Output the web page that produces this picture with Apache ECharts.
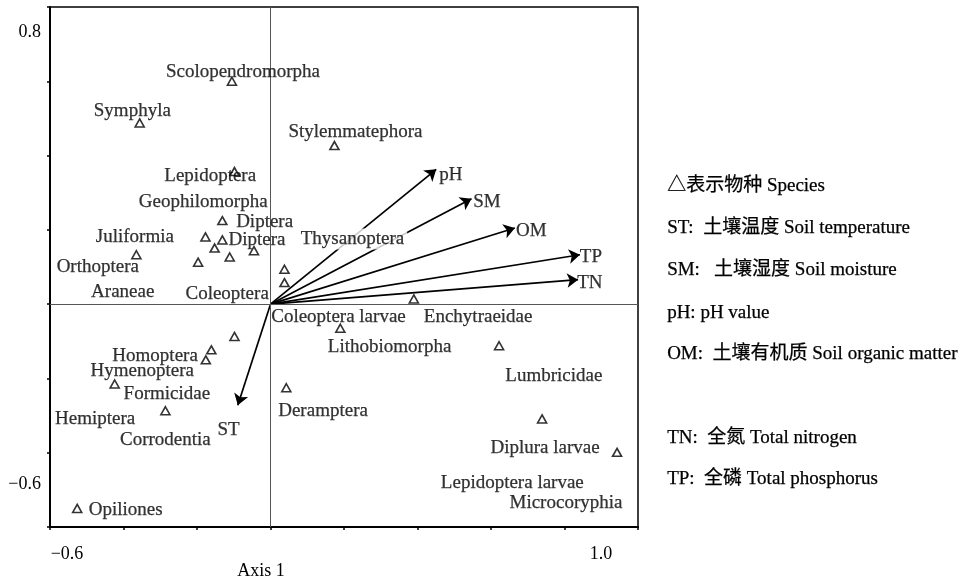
<!DOCTYPE html>
<html><head><meta charset="utf-8">
<script src="https://cdn.jsdelivr.net/npm/echarts@6/dist/echarts.min.js"></script>
<style>html,body{margin:0;padding:0;background:#fff}#c{width:964px;height:583px}</style>
</head><body><div id="c"></div>
<script>
// Species scores (triangles)
const speciesX = [-0.105,-0.356,0.174,-0.098,-0.131,-0.177,-0.131,-0.152,-0.045,-0.111,-0.197,-0.365,0.038,0.038,0.390,0.190,0.622,0.043,0.739,0.943,-0.098,-0.161,-0.176,-0.424,-0.286,-0.526];
const speciesY = [0.600,0.488,0.427,0.357,0.225,0.181,0.173,0.151,0.144,0.127,0.113,0.133,0.094,0.058,0.014,-0.065,-0.112,-0.225,-0.309,-0.399,-0.087,-0.123,-0.150,-0.215,-0.287,-0.550];
// Species name labels (anchor in data units)
const labelNames = ['Scolopendromorpha','Symphyla','Stylemmatephora','Lepidoptera','Geophilomorpha','Diptera','Diptera','Juliformia','Orthoptera','Araneae','Coleoptera','Thysanoptera','Coleoptera larvae','Enchytraeidae','Lithobiomorpha','Lumbricidae','Deramptera','Diplura larvae','Lepidoptera larvae','Microcoryphia','Homoptera','Hymenoptera','Formicidae','Hemiptera','Corrodentia','Opiliones'];
const labelX = [-0.075,-0.376,0.231,-0.164,-0.183,-0.016,-0.037,-0.369,-0.470,-0.402,-0.118,0.223,0.185,0.565,0.324,0.771,0.143,0.747,0.658,0.804,-0.314,-0.349,-0.282,-0.477,-0.286,-0.394];
const labelY = [0.631,0.524,0.470,0.349,0.281,0.227,0.179,0.187,0.106,0.039,0.033,0.181,-0.029,-0.029,-0.110,-0.188,-0.282,-0.381,-0.476,-0.530,-0.134,-0.174,-0.236,-0.303,-0.361,-0.549];
// Environmental vectors
const envNames = ['pH','SM','OM','TP','TN','ST'];
const envX = [0.451,0.547,0.665,0.842,0.837,-0.089];
const envY = [0.363,0.284,0.205,0.133,0.066,-0.272];
const envLabelX = [0.491,0.589,0.710,0.872,0.869,-0.114];
const envLabelY = [0.353,0.281,0.202,0.133,0.061,-0.333];
// Side legend text
const legendLines = ['△表示物种 Species','ST:  土壤温度 Soil temperature','SM:   土壤湿度 Soil moisture','pH: pH value','OM:  土壤有机质 Soil organic matter','','TN:  全氮 Total nitrogen','TP:  全磷 Total phosphorus'];
// Tick labels shown
const xTickText = [[-0.6,'−0.6','lo'],[1.0,'1.0','hi']];
const yTickText = [[0.8,'0.8','hi'],[-0.6,'−0.6','lo']];
const xAxisName = 'Axis 1';

const FONT = '"Liberation Serif","Noto Sans CJK SC",serif';
const chart = echarts.init(document.getElementById('c'));

function tickFmt(list){
  return function(v){
    for (const t of list){ if (Math.abs(v - t[0]) < 1e-6) return '{' + t[2] + '|' + t[1] + '}'; }
    return '';
  };
}

const legendGraphics = [];
const legendYs = [185,227,269,312,353,395,437,478];
legendLines.forEach((t, i) => {
  if (!t) return;
  legendGraphics.push({type:'text', left:667, top:legendYs[i]-9, style:{text:t, font:'19px ' + FONT, fill:'#000', stroke:'#000', lineWidth:0.25}});
});

const labelStyle = {show:true, position:'inside', offset:[0,2], formatter:'{b}', fontFamily:FONT, fontSize:19, color:'#000', textBorderColor:'#000', textBorderWidth:0.25};

chart.setOption({
  animation:false,
  backgroundColor:'#fff',
  grid: {left:50, right:326, top:7, bottom:56, show:true, borderColor:'#000', borderWidth:1.5,
         backgroundColor:'transparent', containLabel:false, outerBoundsMode:'none'},
  xAxis: {
    type:'value', min:-0.6, max:1.0, interval:0.2,
    axisLine:{show:true, onZero:false, lineStyle:{color:'#000', width:2}},
    axisTick:{show:true, inside:false, length:3, lineStyle:{color:'#000', width:1.5}},
    splitLine:{show:false},
    axisLabel:{show:true, margin:18, fontFamily:FONT, fontSize:18, color:'#000', formatter:tickFmt(xTickText),
      rich:{lo:{fontFamily:FONT, fontSize:18, color:'#000', padding:[0,0,0,34]}, hi:{fontFamily:FONT, fontSize:18, color:'#000', padding:[0,74,0,0]}}},
    name:xAxisName, nameLocation:'middle', nameGap:35, nameMoveOverlap:false,
    nameTextStyle:{fontFamily:FONT, fontSize:18, color:'#000', padding:[0,166,0,0]}
  },
  yAxis: {
    type:'value', min:-0.6, max:0.8, interval:0.2,
    axisLine:{show:true, onZero:false, lineStyle:{color:'#000', width:2}},
    axisTick:{show:true, inside:false, length:3, lineStyle:{color:'#000', width:1.5}},
    splitLine:{show:false},
    axisLabel:{show:true, margin:9, fontFamily:FONT, fontSize:18, color:'#000', formatter:tickFmt(yTickText),
      rich:{hi:{fontFamily:FONT, fontSize:18, color:'#000', padding:[51,0,0,0]}, lo:{fontFamily:FONT, fontSize:18, color:'#000', padding:[0,0,86,0]}}}
  },
  graphic: legendGraphics,
  series: [
    {
      type:'scatter', name:'zero', data:[], silent:true,
      markLine:{silent:true, symbol:['none','none'], label:{show:false},
        lineStyle:{color:'#555', width:1, type:'solid'},
        data:[{xAxis:0},{yAxis:0}]}
    },
    {
      type:'lines', coordinateSystem:'cartesian2d', z:3, silent:true,
      symbol:['none','arrow'], symbolSize:[0,11],
      lineStyle:{color:'#000', width:1.7, opacity:1},
      data: envNames.map((n,i)=>({name:n, coords:[[0,0],[envX[i], envY[i]]]}))
    },
    {
      type:'scatter', z:4, silent:true,
      symbol:'triangle', symbolSize:[9,8],
      itemStyle:{color:'#fff', borderColor:'#000', borderWidth:1.6},
      data: speciesX.map((x,i)=>[x, speciesY[i]])
    },
    {
      type:'scatter', z:5, silent:true, symbolSize:0,
      label:labelStyle,
      data: labelNames.map((n,i)=>{
        const d = {name:n, value:[labelX[i], labelY[i]]};
        if (n === 'Thysanoptera') d.label = {backgroundColor:'#fff', padding:[1,3]};
        return d;
      })
    },
    {
      type:'scatter', z:5, silent:true, symbolSize:0,
      label:labelStyle,
      data: envNames.map((n,i)=>({name:n, value:[envLabelX[i], envLabelY[i]]}))
    }
  ]
});
</script>
</body></html>
